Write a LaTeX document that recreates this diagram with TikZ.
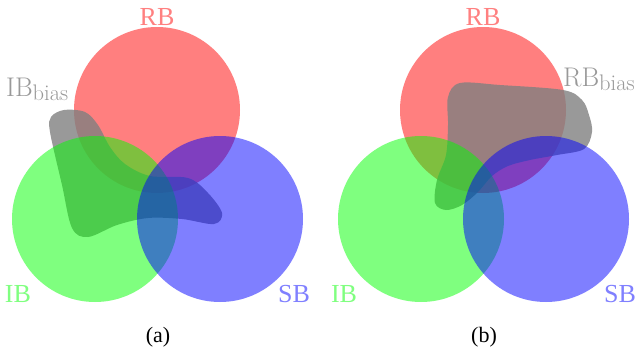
\documentclass[tikz,border=0pt]{standalone}
\usepackage{fontspec}
\setmainfont{Liberation Serif}
% Latin Modern for the bias labels, subscript set by hand
\newcommand{\lmtext}{\fontfamily{lmr}\selectfont}
\newcommand{\biassub}[1]{{\lmtext\fontsize{27}{27}\selectfont #1\raisebox{-3.5pt}{\fontsize{22.5}{22.5}\selectfont bias}}}
\begin{document}
\begin{tikzpicture}[x=1pt,y=-1pt,
  redset/.style={fill=red,fill opacity=0.5},
  greenset/.style={fill=green,fill opacity=0.5},
  blueset/.style={fill=blue,fill opacity=0.5},
  biasblob/.style={fill=black!50,fill opacity=0.8},
  setlabel/.style={font=\fontsize{26}{26}\selectfont,anchor=base,inner sep=0pt},
  biaslabel/.style={text=black!40,anchor=base west,inner sep=0pt},
  caption/.style={font=\fontsize{22}{22}\selectfont,anchor=base,inner sep=0pt}]
\useasboundingbox (0,0) rectangle (636,356);

% ---------- (a): biased IB ----------
\fill[redset] (157,110) circle[radius=83pt];
\fill[biasblob] plot[smooth cycle,tension=0.55] coordinates {
  (51,117) (64,110) (85,112) (98,125) (110,147) (125,164) (150,176)
  (188,178) (208,193) (222,213) (214,224) (182,219) (148,218)
  (117,225) (88,237) (72,228) (62,185) (50,132)};
\fill[greenset] (95,219) circle[radius=83pt];
\fill[blueset] (220,219) circle[radius=83pt];

\node[setlabel,text=red!50]   (rbA) at (157,25)  {RB};
\node[setlabel,text=green!50] (ibA) at (18,302)  {IB};
\node[setlabel,text=blue!50]  (sbA) at (294,302) {SB};
\node[biaslabel] (ibbias) at (6,96.7) {\biassub{IB}};
\node[caption] (capA) at (158,342) {(a)};

% ---------- (b): biased RB ----------
\fill[redset] (483,110) circle[radius=83pt];
\fill[biasblob] plot[smooth cycle,tension=0.55] coordinates {
  (448,97) (460,83) (500,85) (563,90) (582,100) (589,115) (592,132)
  (584,149) (557,155) (530,160) (508,166) (492,176) (478,192)
  (462,205) (446,210) (435,203) (437,180) (446,155) (448,125)};
\fill[greenset] (421,219) circle[radius=83pt];
\fill[blueset] (546,219) circle[radius=83pt];

\node[setlabel,text=red!50]   (rbB) at (483,25)  {RB};
\node[setlabel,text=green!50] (ibB) at (344,302) {IB};
\node[setlabel,text=blue!50]  (sbB) at (620,302) {SB};
\node[biaslabel] (rbbias) at (563,86.7) {\biassub{RB}};
\node[caption] (capB) at (484,342) {(b)};
\end{tikzpicture}
\end{document}
